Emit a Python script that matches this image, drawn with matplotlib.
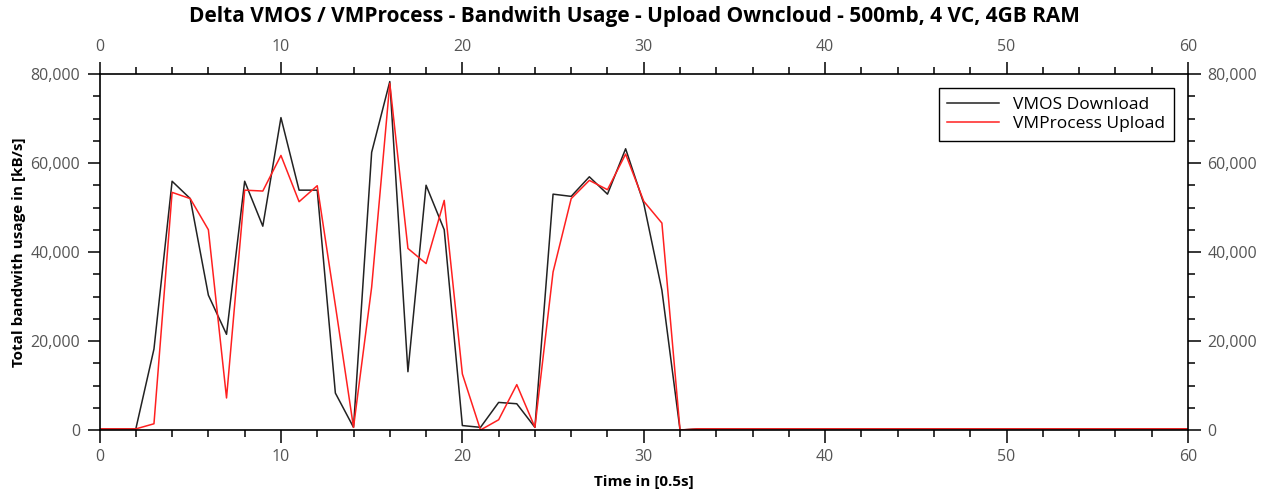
import matplotlib
matplotlib.use("Agg")
import matplotlib.pyplot as plt
from matplotlib.ticker import MultipleLocator, FuncFormatter

plt.rcParams['font.family'] = ['Open Sans', 'DejaVu Sans']

# time steps (0.5s each)
time = list(range(0, 61))

# VMOS download, kB/s
vmos_download = [250, 250, 250, 18200, 55900, 52000, 30300, 21500, 55900, 45800,
                 70200, 53900, 53900, 8300, 600, 62400, 78300, 13100, 55000, 45000,
                 1000, 600, 6200, 5900, 600, 53000, 52500, 56900, 53000, 63200,
                 50900, 31400, 0] + [250] * 28

# VMProcess upload, kB/s
vmprocess_upload = [250, 250, 250, 1400, 53400, 52000, 45000, 7200, 53900, 53700,
                    61700, 51300, 54900, 28000, 600, 32100, 77900, 40800, 37400, 51600,
                    12600, 0, 2300, 10200, 600, 35500, 52000, 56100, 54000, 62000,
                    51400, 46500, 0] + [250] * 28

fig = plt.figure(figsize=(12.68, 4.95), dpi=100)
ax = fig.add_axes([0.0785, 0.1313, 0.8584, 0.7192])

ax.plot(time, vmos_download, color='#222222', lw=1.1, label='VMOS Download')
ax.plot(time, vmprocess_upload, color='#ff2020', lw=1.1, label='VMProcess Upload')

ax.set_xlim(0, 60)
ax.set_ylim(0, 80000)
ax.xaxis.set_major_locator(MultipleLocator(10))
ax.xaxis.set_minor_locator(MultipleLocator(2))
ax.yaxis.set_major_locator(MultipleLocator(20000))
ax.yaxis.set_minor_locator(MultipleLocator(5000))
ax.yaxis.set_major_formatter(FuncFormatter(lambda v, p: f'{int(v):,}'))

ax.tick_params(which='both', direction='out', top=True, right=True,
               labeltop=True, labelright=True, labelsize=11.5,
               labelcolor='#555555', width=1.1)
ax.tick_params(which='major', length=9, pad=5)
ax.tick_params(which='minor', length=5)
for s in ax.spines.values():
    s.set_linewidth(1.2)

ax.set_xlabel('Time in [0.5s]', fontsize=11, fontweight='bold', labelpad=7)
ax.set_ylabel('Total bandwith usage in [kB/s]', fontsize=11, fontweight='bold', labelpad=3)
fig.suptitle('Delta VMOS / VMProcess - Bandwith Usage - Upload Owncloud - 500mb, 4 VC, 4GB RAM',
             fontsize=15, fontweight='bold', y=0.988)

leg = ax.legend(loc='upper right', fontsize=12.5, fancybox=False, framealpha=1,
                edgecolor='black', borderaxespad=0.8, handlelength=3.0,
                labelspacing=0.2, borderpad=0.5)
leg.get_frame().set_linewidth(1.0)

fig.savefig('out.png', dpi=100)
